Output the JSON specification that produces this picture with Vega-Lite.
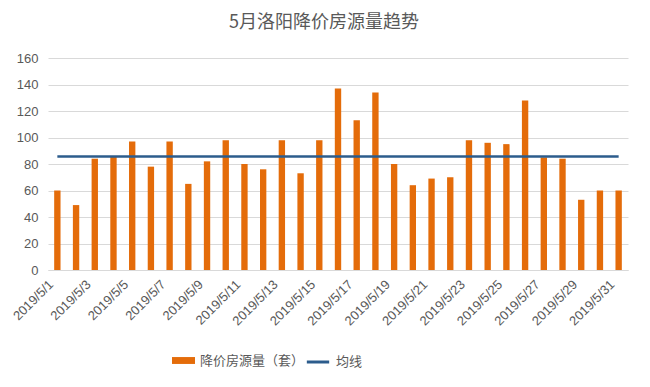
{
  "$schema": "https://vega.github.io/schema/vega-lite/v6.json",
  "autosize": {"type": "none"},
  "width": 580,
  "height": 212,
  "padding": {"left": 48, "top": 58, "right": 22, "bottom": 117},
  "background": "white",
  "title": {"text": "5月洛阳降价房源量趋势", "fontSize": 18, "font": "Noto Sans CJK SC", "fontWeight": "normal", "color": "#595959", "offset": 20, "dx": -14, "anchor": "middle"},
  "config": {
    "view": {"stroke": null},
    "font": "Noto Sans CJK SC",
    "axis": {"labelColor": "#595959", "labelFont": "Liberation Sans", "labelFontSize": 13, "gridColor": "#D9D9D9", "domainColor": "#D9D9D9", "ticks": false, "title": null},
    "legend": {"labelColor": "#595959", "labelFontSize": 13, "labelFont": "Noto Sans CJK SC"}
  },
  "data": {"values": [
    {"date": "2019/5/1", "v": 60, "avg": 85.7, "s": "降价房源量（套）", "l": "均线"},
    {"date": "2019/5/2", "v": 49, "avg": 85.7, "s": "降价房源量（套）", "l": "均线"},
    {"date": "2019/5/3", "v": 84, "avg": 85.7, "s": "降价房源量（套）", "l": "均线"},
    {"date": "2019/5/4", "v": 86, "avg": 85.7, "s": "降价房源量（套）", "l": "均线"},
    {"date": "2019/5/5", "v": 97, "avg": 85.7, "s": "降价房源量（套）", "l": "均线"},
    {"date": "2019/5/6", "v": 78, "avg": 85.7, "s": "降价房源量（套）", "l": "均线"},
    {"date": "2019/5/7", "v": 97, "avg": 85.7, "s": "降价房源量（套）", "l": "均线"},
    {"date": "2019/5/8", "v": 65, "avg": 85.7, "s": "降价房源量（套）", "l": "均线"},
    {"date": "2019/5/9", "v": 82, "avg": 85.7, "s": "降价房源量（套）", "l": "均线"},
    {"date": "2019/5/10", "v": 98, "avg": 85.7, "s": "降价房源量（套）", "l": "均线"},
    {"date": "2019/5/11", "v": 80, "avg": 85.7, "s": "降价房源量（套）", "l": "均线"},
    {"date": "2019/5/12", "v": 76, "avg": 85.7, "s": "降价房源量（套）", "l": "均线"},
    {"date": "2019/5/13", "v": 98, "avg": 85.7, "s": "降价房源量（套）", "l": "均线"},
    {"date": "2019/5/14", "v": 73, "avg": 85.7, "s": "降价房源量（套）", "l": "均线"},
    {"date": "2019/5/15", "v": 98, "avg": 85.7, "s": "降价房源量（套）", "l": "均线"},
    {"date": "2019/5/16", "v": 137, "avg": 85.7, "s": "降价房源量（套）", "l": "均线"},
    {"date": "2019/5/17", "v": 113, "avg": 85.7, "s": "降价房源量（套）", "l": "均线"},
    {"date": "2019/5/18", "v": 134, "avg": 85.7, "s": "降价房源量（套）", "l": "均线"},
    {"date": "2019/5/19", "v": 80, "avg": 85.7, "s": "降价房源量（套）", "l": "均线"},
    {"date": "2019/5/20", "v": 64, "avg": 85.7, "s": "降价房源量（套）", "l": "均线"},
    {"date": "2019/5/21", "v": 69, "avg": 85.7, "s": "降价房源量（套）", "l": "均线"},
    {"date": "2019/5/22", "v": 70, "avg": 85.7, "s": "降价房源量（套）", "l": "均线"},
    {"date": "2019/5/23", "v": 98, "avg": 85.7, "s": "降价房源量（套）", "l": "均线"},
    {"date": "2019/5/24", "v": 96, "avg": 85.7, "s": "降价房源量（套）", "l": "均线"},
    {"date": "2019/5/25", "v": 95, "avg": 85.7, "s": "降价房源量（套）", "l": "均线"},
    {"date": "2019/5/26", "v": 128, "avg": 85.7, "s": "降价房源量（套）", "l": "均线"},
    {"date": "2019/5/27", "v": 85, "avg": 85.7, "s": "降价房源量（套）", "l": "均线"},
    {"date": "2019/5/28", "v": 84, "avg": 85.7, "s": "降价房源量（套）", "l": "均线"},
    {"date": "2019/5/29", "v": 53, "avg": 85.7, "s": "降价房源量（套）", "l": "均线"},
    {"date": "2019/5/30", "v": 60, "avg": 85.7, "s": "降价房源量（套）", "l": "均线"},
    {"date": "2019/5/31", "v": 60, "avg": 85.7, "s": "降价房源量（套）", "l": "均线"}
  ]},
  "encoding": {
    "x": {
      "field": "date", "type": "ordinal", "sort": null,
      "scale": {"paddingInner": 0.66, "paddingOuter": 0.33},
      "axis": {
        "values": ["2019/5/1","2019/5/3","2019/5/5","2019/5/7","2019/5/9","2019/5/11","2019/5/13","2019/5/15","2019/5/17","2019/5/19","2019/5/21","2019/5/23","2019/5/25","2019/5/27","2019/5/29","2019/5/31"],
        "labelAngle": -45, "labelAlign": "right", "labelBaseline": "middle", "labelPadding": 12, "labelOffset": -6, "grid": false, "labelOverlap": false
      }
    }
  },
  "layer": [
    {
      "mark": {"type": "bar"},
      "encoding": {
        "y": {"field": "v", "type": "quantitative", "scale": {"domain": [0, 160]}, "axis": {"values": [0,20,40,60,80,100,120,140,160], "domain": false, "grid": true, "labelPadding": 10, "labelOverlap": false}},
        "color": {"field": "s", "type": "nominal", "scale": {"range": ["#E46C0A"]},
          "legend": {"title": null, "orient": "none", "legendX": 124, "legendY": 291, "symbolType": "M-1,-0.3H1V0.3H-1Z", "symbolSize": 529, "symbolStrokeWidth": 0, "labelOffset": 5}}
      }
    },
    {
      "mark": {"type": "line", "strokeWidth": 2.5},
      "encoding": {
        "y": {"field": "avg", "type": "quantitative", "scale": {"domain": [0, 160]}, "axis": {"values": [0,20,40,60,80,100,120,140,160], "domain": false, "grid": true, "labelPadding": 10, "labelOverlap": false}},
        "stroke": {"field": "l", "type": "nominal", "scale": {"range": ["#2C5C8C"]},
          "legend": {"title": null, "orient": "none", "legendX": 257, "legendY": 291, "symbolType": "stroke", "symbolSize": 500, "symbolStrokeWidth": 3, "labelOffset": 5}}
      }
    }
  ]
}
